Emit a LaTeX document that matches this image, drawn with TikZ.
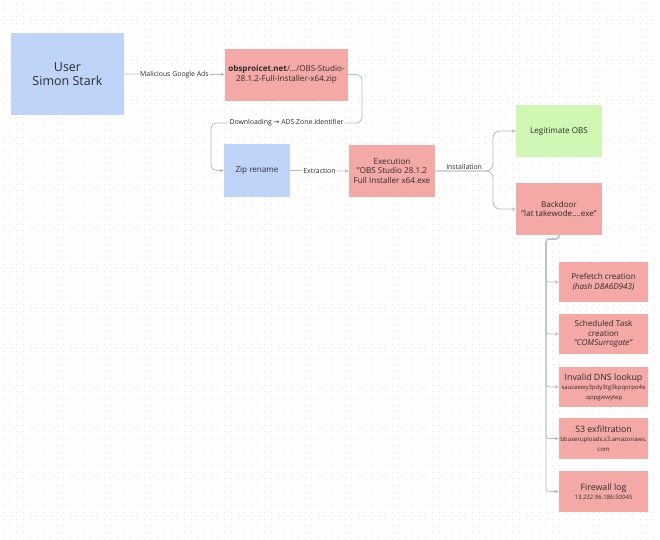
\documentclass[tikz,border=0pt]{standalone}
\usepackage{fontspec}
\setmainfont{Open Sans}
\newfontfamily\arrowfont{DejaVu Sans}
\usetikzlibrary{arrows.meta}
\definecolor{userblue}{HTML}{C0D4FA}
\definecolor{alertred}{HTML}{F4A9A7}
\definecolor{safegreen}{HTML}{D0F7B4}
\definecolor{linkgrey}{HTML}{B2BCC6}
\definecolor{textdark}{HTML}{2B2B2B}
\newcommand{\bigline}{\fontsize{8.8}{9.6}\selectfont}
\newcommand{\tinyline}{\fontsize{6}{6.6}\selectfont}
\begin{document}
\begin{tikzpicture}[x=1pt,y=-1pt,%
% common options for the boxes:
box/.style = {align=center, inner sep=0, text=textdark, font=\fontsize{8.1}{9.6}\selectfont},
% common options for the connectors:
link/.style = {draw=linkgrey, line width=0.8pt, -{Stealth[length=4pt,width=3.5pt]}},
lbl/.style = {fill=white, inner sep=1pt, text=textdark, font=\fontsize{6.9}{7.5}\selectfont}]
\useasboundingbox (0,0) rectangle (660,539);
% faint dot grid
\foreach \gy in {3,9.7,...,539}
  \draw[black!10, line width=0.7pt, dash pattern=on 0.7pt off 6pt] (3,\gy) -- (660,\gy);
\node[box, fill=userblue, minimum width=113, minimum height=82, font=\fontsize{12.5}{13.5}\selectfont] (user) at (67.5,74) {User\\Simon Stark};
\node[box, fill=alertred, minimum width=123, minimum height=52, font=\fontsize{8.1}{10}\selectfont] (url) at (286.5,74.5) {\textbf{obsproicet.net}/…/OBS-Studio-\\28.1.2-Full-Installer-x64.zip};
\node[box, fill=userblue, minimum width=66, minimum height=53] (zip) at (257,170.5) {Zip rename};
\node[box, fill=alertred, minimum width=86, minimum height=52] (exec) at (392,171) {Execution\\"OBS Studio 28.1.2\\Full Installer x64.exe};
\node[box, fill=safegreen, minimum width=86, minimum height=52] (legit) at (559,131) {Legitimate OBS};
\node[box, fill=alertred, minimum width=86, minimum height=52] (backdoor) at (559,209) {Backdoor\\"lat takewode....exe"};
\node[box, fill=alertred, minimum width=89, minimum height=40] (prefetch) at (603.5,282) {Prefetch creation\\\textit{(hash D8A6D943)}};
\node[box, fill=alertred, minimum width=89, minimum height=40] (task) at (603.5,334) {Scheduled Task\\creation\\\textit{"COMSurrogate"}};
\node[box, fill=alertred, minimum width=89, minimum height=40] (dns) at (603.5,387) {\bigline Invalid DNS lookup\\\tinyline sauceewy3pdy3tg3kpqorpo4e\\\tinyline .qopgwwytep};
\node[box, fill=alertred, minimum width=89, minimum height=41] (s3) at (603.5,438.5) {\bigline S3 exfiltration\\\tinyline bbuseruploads.s3.amazonaws.\\\tinyline com};
\node[box, fill=alertred, minimum width=89, minimum height=41] (fw) at (603.5,491.5) {\bigline Firewall log\\\tinyline 13.232.96.186:50045};
\coordinate (dlright) at (362,123);
\coordinate (dlleft) at (211,123);
\coordinate (split) at (493,171);
\coordinate (trunk) at (546,239);
\draw[link] (user.east) -- node[lbl] {Malicious Google Ads} (url.west);
\draw[link, rounded corners=6] (url.east) -| (dlright) -- node[lbl] {Downloading {\arrowfont→} ADS Zone.Identifier} (dlleft) |- (zip.west);
\draw[link] (zip.east) -- node[lbl] {Extraction} (exec.west);
\draw[link, rounded corners=7] (exec.east) -- node[lbl, fill=none, above=0.5pt] {Installation} (split) |- (legit.west);
\draw[link, rounded corners=7] (exec.east) -- (split) |- (backdoor.west);
\foreach \step in {prefetch,task,dns,s3,fw}
  \draw[link, rounded corners=3] (backdoor.south) |- (trunk) |- (\step.west);
\end{tikzpicture}
\end{document}
